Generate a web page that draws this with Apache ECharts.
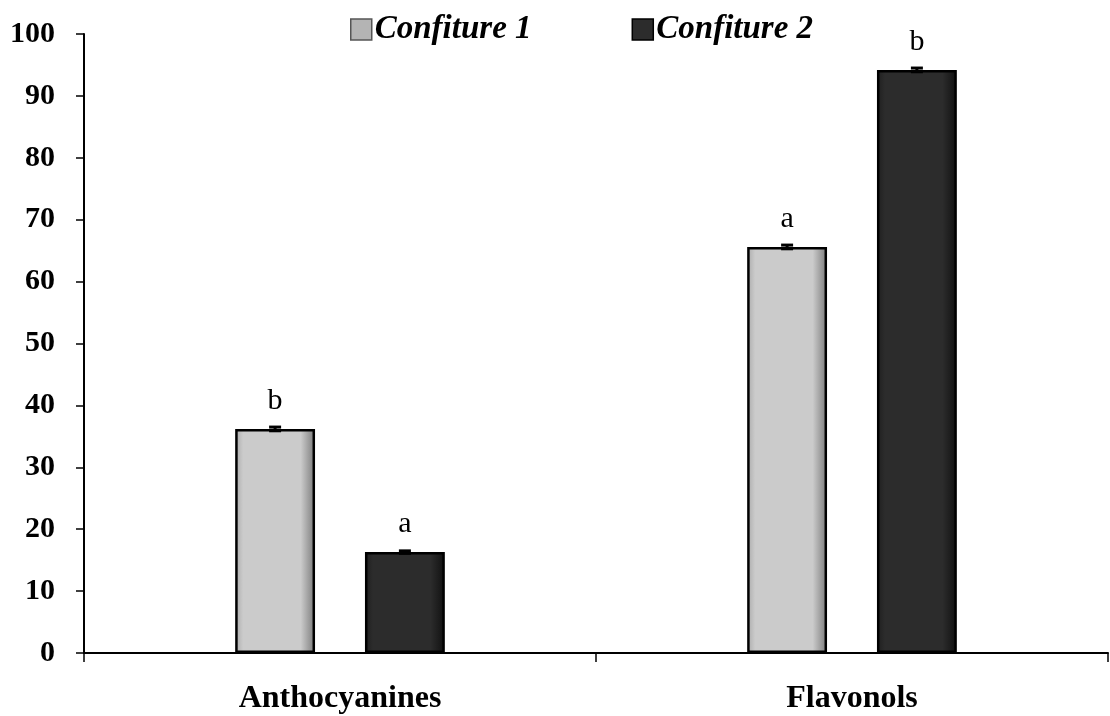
<!DOCTYPE html>
<html>
<head>
<meta charset="utf-8">
<script src="https://cdn.jsdelivr.net/npm/echarts@6/dist/echarts.min.js"></script>
<style>html,body{margin:0;padding:0;background:#fff}#c{width:1110px;height:716px}</style>
</head>
<body>
<div id="c"></div>
<script>
const categories = ['Anthocyanines', 'Flavonols'];
const seriesNames = ['Confiture 1', 'Confiture 2'];
const confiture1 = [36.2, 65.6];
const confiture2 = [16.3, 94.2];
const err1 = [0.3, 0.3];
const err2 = [0.2, 0.3];
const letters1 = ['b', 'a'];
const letters2 = ['a', 'b'];
const yTicks = [0, 10, 20, 30, 40, 50, 60, 70, 80, 90, 100];

const FONT = '"Liberation Serif", "Times New Roman", serif';
const BAR_FRAC = 0.156;
const GAP_FRAC = 0.625;

function grad(edgeL, mid, edgeR) {
  return new echarts.graphic.LinearGradient(0, 0, 1, 0, [
    {offset: 0, color: edgeL},
    {offset: 0.1, color: mid},
    {offset: 0.82, color: mid},
    {offset: 1, color: edgeR}
  ]);
}

function errSeries(vals, errs, sign) {
  return {
    type: 'custom',
    silent: true,
    z: 10,
    data: vals.map((v, i) => [i, v, errs[i]]),
    renderItem: function (params, api) {
      const i = api.value(0), v = api.value(1), e = api.value(2);
      const band = api.size([1, 0])[0];
      const bw = band * BAR_FRAC;
      const off = sign * (bw + bw * GAP_FRAC) / 2;
      const top = api.coord([i, v + e]);
      const bot = api.coord([i, v - e]);
      const x = top[0] + off;
      const hw = 6;
      const style = {stroke: '#000', lineWidth: 3};
      return {
        type: 'group',
        children: [
          {type: 'line', shape: {x1: x, y1: top[1], x2: x, y2: bot[1]}, style: style},
          {type: 'line', shape: {x1: x - hw, y1: top[1], x2: x + hw, y2: top[1]}, style: style},
          {type: 'line', shape: {x1: x - hw, y1: bot[1], x2: x + hw, y2: bot[1]}, style: style}
        ]
      };
    }
  };
}

const chart = echarts.init(document.getElementById('c'), null, {renderer: 'canvas'});
chart.setOption({
  animation: false,
  backgroundColor: '#fff',
  textStyle: {fontFamily: FONT},
  grid: {left: 84, right: 2, top: 34, bottom: 63, containLabel: false},
  legend: {
    top: 8,
    left: 345,
    itemGap: 100,
    itemWidth: 21,
    itemHeight: 21,
    icon: 'rect',
    textStyle: {fontFamily: FONT, fontSize: 33, fontWeight: 'bold', fontStyle: 'italic', color: '#000', padding: [0, 0, 0, -2]},
    data: [
      {name: seriesNames[0], itemStyle: {color: '#b4b4b4', borderColor: '#555', borderWidth: 1.5}},
      {name: seriesNames[1], itemStyle: {color: '#2c2c2c', borderColor: '#000', borderWidth: 1.5}}
    ]
  },
  xAxis: {
    type: 'category',
    data: categories,
    axisLine: {lineStyle: {color: '#000', width: 2}},
    axisTick: {show: true, length: 9, lineStyle: {color: '#000', width: 1.5}, alignWithLabel: false},
    axisLabel: {fontFamily: FONT, fontSize: 32, fontWeight: 'bold', color: '#000', margin: 30},
    splitLine: {show: false}
  },
  yAxis: {
    type: 'value',
    min: yTicks[0],
    max: yTicks[yTicks.length - 1],
    interval: 10,
    axisLine: {show: true, lineStyle: {color: '#000', width: 2}},
    axisTick: {show: true, length: 8, lineStyle: {color: '#000', width: 1.5}},
    axisLabel: {fontFamily: FONT, fontSize: 30, fontWeight: 'bold', color: '#000', margin: 29},
    splitLine: {show: false}
  },
  series: [
    {
      name: seriesNames[0],
      type: 'bar',
      data: confiture1,
      barWidth: (BAR_FRAC * 100) + '%',
      barGap: (GAP_FRAC * 100) + '%',
      itemStyle: {color: grad('#aaaaaa', '#cbcbcb', '#7a7a7a'), borderColor: '#000', borderWidth: 2.5},
      label: {
        show: true, position: 'top', distance: 13,
        formatter: p => letters1[p.dataIndex],
        fontFamily: FONT, fontSize: 30, color: '#000'
      }
    },
    {
      name: seriesNames[1],
      type: 'bar',
      data: confiture2,
      barWidth: (BAR_FRAC * 100) + '%',
      itemStyle: {color: grad('#1e1e1e', '#2c2c2c', '#101010'), borderColor: '#000', borderWidth: 2.5},
      label: {
        show: true, position: 'top', distance: 13,
        formatter: p => letters2[p.dataIndex],
        fontFamily: FONT, fontSize: 30, color: '#000'
      }
    },
    errSeries(confiture1, err1, -1),
    errSeries(confiture2, err2, 1)
  ]
});
</script>
</body>
</html>
